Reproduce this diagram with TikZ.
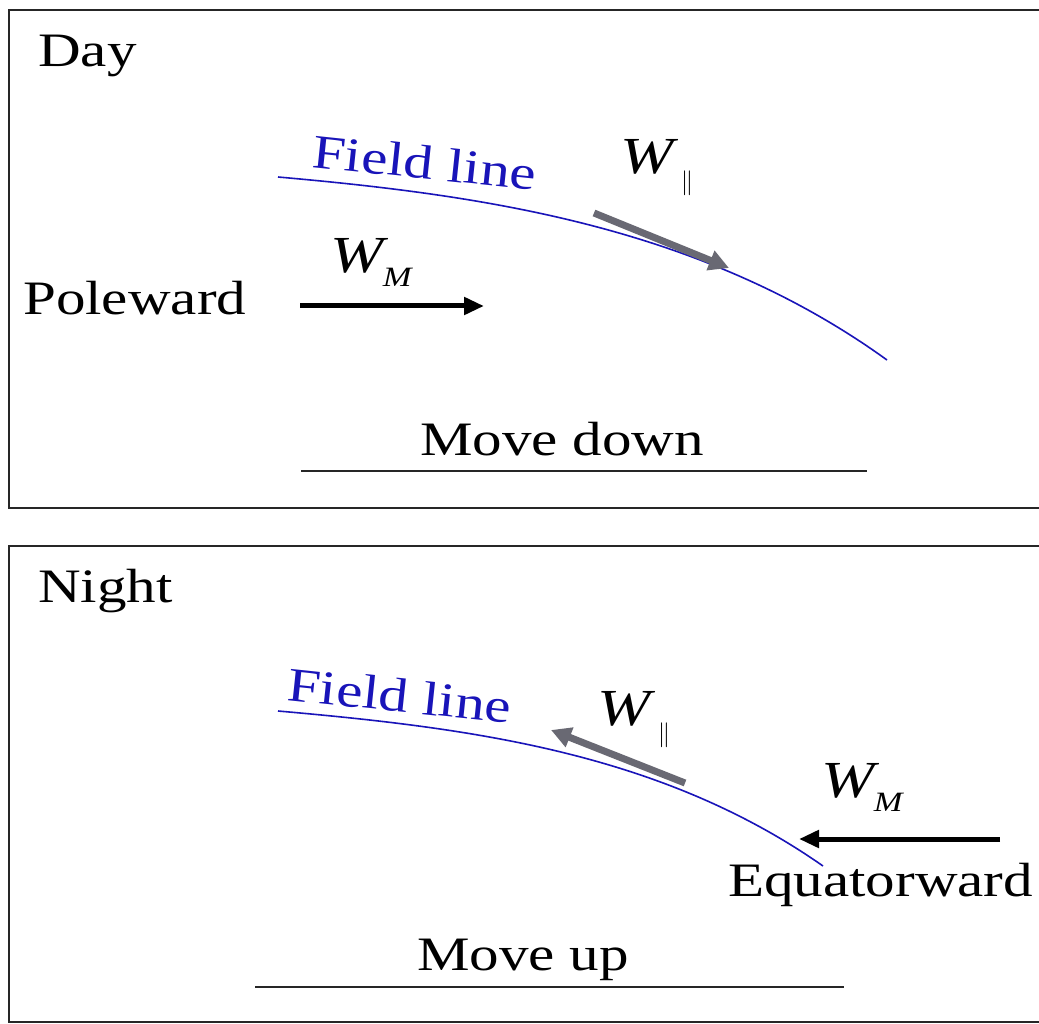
\documentclass[tikz,border=0pt]{standalone}
\usepackage{fontspec}
\setmainfont{Liberation Serif}[FakeStretch=1.23]
\usetikzlibrary{arrows.meta}
\definecolor{fieldblue}{RGB}{25,20,185}
\definecolor{wgray}{RGB}{105,105,115}
\tikzset{
  lbl/.style={font=\fontsize{48}{50}\selectfont, inner sep=0pt, anchor=base west},
  fieldlbl/.style={lbl, text=fieldblue, rotate=-6},
  wlbl/.style={font=\fontsize{52}{54}\selectfont, inner sep=0pt},
  frame/.style={draw=black!85, line width=2pt},
  fieldcurve/.style={draw=fieldblue, line width=1.6pt},
  blackarrow/.style={draw=black, line width=5pt, -{Triangle[length=20pt,width=17pt]}},
  grayarrow/.style={draw=wgray, line width=7pt, -{Triangle[length=20pt,width=20pt]}},
  baseline/.style={draw=black!85, line width=2pt}
}
\newcommand{\Wpar}{\textit{W}\kern2pt\raisebox{-16pt}{\fontsize{34}{34}\selectfont$\|$}}
\newcommand{\WM}{\textit{W}\kern-6pt\raisebox{-14pt}{\fontsize{28}{28}\selectfont\textit{M}}}
\begin{document}
\begin{tikzpicture}[x=1pt,y=-1pt]
\useasboundingbox (0,0) rectangle (1039,1024);
\clip (0,0) rectangle (1039,1024);
\fill[white] (0,0) rectangle (1039,1024);
% frames
\draw[frame] (8.5,10.5) rectangle (1060,507.5);
\draw[frame] (8.5,545.5) rectangle (1060,1021.5);
% ---------- Day ----------
\node[lbl] (day) at (38,67) {Day};
\node[lbl] (pole) at (23,315) {Poleward};
\node[lbl] (movedown) at (420,455) {Move down};
\node[fieldlbl] (fl1) at (311,167) {Field line};
\coordinate (c1s) at (278,177);
\coordinate (c1e) at (887,360);
\draw[fieldcurve] (c1s) .. controls (480,195) and (700,225) .. (c1e);
\coordinate (g1s) at (594,213);
\coordinate (g1e) at (729,268);
\draw[grayarrow] (g1s) -- (g1e);
\node[wlbl] (wpar1) at (657,168) {\Wpar};
\coordinate (b1s) at (300,306);
\coordinate (b1e) at (484,306);
\draw[blackarrow] (b1s) -- (b1e);
\node[wlbl] (wm1) at (372,262) {\WM};
\coordinate (u1s) at (301,471);
\coordinate (u1e) at (867,471);
\draw[baseline] (u1s) -- (u1e);
% ---------- Night ----------
\node[lbl] (night) at (38,602) {Night};
\node[lbl] (moveup) at (417,970) {Move up};
\node[lbl] (equ) at (728,896) {Equatorward};
\node[fieldlbl] (fl2) at (286,700) {Field line};
\coordinate (c2s) at (278,711);
\coordinate (c2e) at (823,866);
\draw[fieldcurve] (c2s) .. controls (470,728) and (660,752) .. (c2e);
\coordinate (g2s) at (685,783);
\coordinate (g2e) at (551,730);
\draw[grayarrow] (g2s) -- (g2e);
\node[wlbl] (wpar2) at (634,720) {\Wpar};
\coordinate (b2s) at (1000,839);
\coordinate (b2e) at (799,839);
\draw[blackarrow] (b2s) -- (b2e);
\node[wlbl] (wm2) at (863,787) {\WM};
\coordinate (u2s) at (255,987);
\coordinate (u2e) at (844,987);
\draw[baseline] (u2s) -- (u2e);
\end{tikzpicture}
\end{document}
